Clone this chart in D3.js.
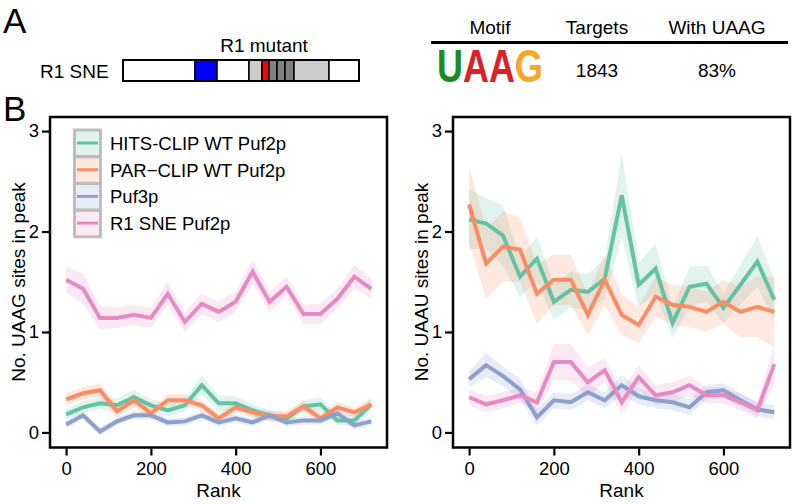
<!DOCTYPE html>
<html>
<head>
<meta charset="utf-8">
<script src="https://cdn.jsdelivr.net/npm/d3@7"></script>
<style>
  body { margin: 0; background: #fff; }
  svg { font-family: "Liberation Sans", Arial, sans-serif; }
</style>
</head>
<body>
<div id="chart-container"></div>
<script>
// ranks (x) shared by every series
const ranks = [0, 40, 80, 120, 160, 200, 240, 280, 320, 360, 400, 440, 480, 520, 560, 600, 640, 680, 720];

const seriesNames = ['HITS-CLIP WT Puf2p', 'PAR\u2212CLIP WT Puf2p', 'Puf3p', 'R1 SNE Puf2p'];
const seriesColors = ['#66c2a5', '#fc8d62', '#8da0cb', '#e78ac3'];

// left panel: UAAG sites in peak
const uaagHits = [0.18, 0.25, 0.29, 0.27, 0.35, 0.27, 0.22, 0.27, 0.47, 0.29, 0.29, 0.22, 0.17, 0.14, 0.26, 0.28, 0.12, 0.12, 0.28];
const uaagPar  = [0.33, 0.39, 0.42, 0.21, 0.32, 0.19, 0.32, 0.32, 0.27, 0.14, 0.25, 0.20, 0.16, 0.16, 0.26, 0.14, 0.25, 0.20, 0.28];
const uaagPuf3 = [0.08, 0.17, 0.01, 0.11, 0.17, 0.17, 0.10, 0.11, 0.17, 0.10, 0.14, 0.10, 0.17, 0.10, 0.12, 0.12, 0.19, 0.07, 0.11];
const uaagSne  = [1.52, 1.43, 1.14, 1.14, 1.17, 1.14, 1.38, 1.10, 1.28, 1.20, 1.30, 1.60, 1.30, 1.45, 1.18, 1.18, 1.33, 1.55, 1.43];
// half widths of the shaded bands
const uaagHitsErr = [0.05, 0.06, 0.06, 0.07, 0.07, 0.06, 0.06, 0.06, 0.10, 0.08, 0.07, 0.06, 0.05, 0.05, 0.06, 0.07, 0.05, 0.05, 0.07];
const uaagParErr  = [0.06, 0.06, 0.07, 0.06, 0.07, 0.05, 0.06, 0.06, 0.05, 0.05, 0.05, 0.05, 0.05, 0.05, 0.05, 0.05, 0.05, 0.05, 0.05];
const uaagPuf3Err = [0.04, 0.04, 0.04, 0.04, 0.04, 0.04, 0.04, 0.04, 0.04, 0.04, 0.04, 0.04, 0.04, 0.04, 0.04, 0.04, 0.04, 0.04, 0.04];
const uaagSneErr  = [0.13, 0.15, 0.12, 0.10, 0.10, 0.10, 0.12, 0.10, 0.10, 0.10, 0.10, 0.12, 0.10, 0.10, 0.10, 0.10, 0.10, 0.12, 0.10];

// right panel: UAAU sites in peak
const uaauHits = [2.12, 2.08, 1.96, 1.55, 1.73, 1.30, 1.42, 1.40, 1.53, 2.36, 1.47, 1.63, 1.09, 1.45, 1.48, 1.24, 1.47, 1.70, 1.32];
const uaauPar  = [2.27, 1.68, 1.85, 1.82, 1.38, 1.52, 1.52, 1.17, 1.52, 1.17, 1.07, 1.35, 1.27, 1.25, 1.20, 1.30, 1.20, 1.25, 1.20];
const uaauPuf3 = [0.53, 0.67, 0.56, 0.43, 0.15, 0.32, 0.30, 0.40, 0.32, 0.47, 0.36, 0.32, 0.30, 0.25, 0.40, 0.42, 0.32, 0.23, 0.20];
const uaauSne  = [0.35, 0.28, 0.32, 0.37, 0.30, 0.70, 0.70, 0.50, 0.62, 0.30, 0.55, 0.37, 0.40, 0.47, 0.37, 0.37, 0.30, 0.22, 0.68];
const uaauHitsErr = [0.30, 0.25, 0.30, 0.20, 0.22, 0.18, 0.18, 0.18, 0.20, 0.42, 0.22, 0.25, 0.15, 0.20, 0.18, 0.15, 0.20, 0.25, 0.20];
const uaauParErr  = [0.38, 0.35, 0.35, 0.32, 0.30, 0.25, 0.25, 0.20, 0.25, 0.20, 0.18, 0.20, 0.20, 0.20, 0.20, 0.22, 0.25, 0.30, 0.35];
const uaauPuf3Err = [0.08, 0.12, 0.10, 0.10, 0.08, 0.08, 0.08, 0.08, 0.08, 0.10, 0.08, 0.08, 0.08, 0.08, 0.07, 0.07, 0.07, 0.07, 0.07];
const uaauSneErr  = [0.08, 0.08, 0.08, 0.08, 0.10, 0.18, 0.18, 0.15, 0.12, 0.12, 0.12, 0.10, 0.10, 0.10, 0.08, 0.08, 0.08, 0.08, 0.20];

const xTicks = [0, 200, 400, 600];
const yTicks = [0, 1, 2, 3];

// panel A table
const tableHeaders = ['Motif', 'Targets', 'With UAAG'];
const tableValues = ['1843', '83%'];
const motifLetters = ['U', 'A', 'A', 'G'];
const motifColors = ['#1b8a22', '#d8222a', '#d8222a', '#f7a823'];

const svg = d3.select('#chart-container').append('svg')
  .attr('width', 793).attr('height', 504);

// ---------- panel A ----------
svg.append('text').attr('x', 3).attr('y', 33).attr('font-size', 35).text('A');
svg.append('text').attr('x', 3).attr('y', 121).attr('font-size', 35).text('B');

svg.append('text').attr('x', 40).attr('y', 78).attr('font-size', 19).text('R1 SNE');
svg.append('text').attr('x', 264).attr('y', 52).attr('font-size', 19)
  .attr('text-anchor', 'middle').text('R1 mutant');

// protein diagram segments [start, end, fill]
const domains = [
  [123, 195, '#ffffff'], [195, 217, '#0000ff'], [217, 249, '#ffffff'],
  [249, 262, '#cccccc'], [262, 269, '#ff0000'], [269, 277, '#808080'],
  [277, 285, '#808080'], [285, 294, '#808080'], [294, 329, '#cccccc'],
  [329, 359, '#ffffff']
];
svg.append('g').selectAll('rect').data(domains).join('rect')
  .attr('x', d => d[0]).attr('y', 60).attr('width', d => d[1] - d[0]).attr('height', 21)
  .attr('fill', d => d[2]).attr('stroke', '#000').attr('stroke-width', 1.5);
svg.append('rect').attr('x', 123).attr('y', 60).attr('width', 236).attr('height', 21)
  .attr('fill', 'none').attr('stroke', '#000').attr('stroke-width', 2);

// table
const colX = [490, 597, 717];
svg.append('g').selectAll('text').data(tableHeaders).join('text')
  .attr('x', (d, i) => colX[i]).attr('y', 34).attr('font-size', 19)
  .attr('text-anchor', 'middle').text(d => d);
svg.append('line').attr('x1', 431).attr('x2', 788).attr('y1', 42.5).attr('y2', 42.5)
  .attr('stroke', '#000').attr('stroke-width', 3);
svg.append('g').selectAll('text').data(tableValues).join('text')
  .attr('x', (d, i) => colX[i + 1]).attr('y', 77).attr('font-size', 19)
  .attr('text-anchor', 'middle').text(d => d);

// motif logo: one text, letters coloured through hard-stop gradient
const logoX = 437, logoW = 106;
const grad = svg.append('defs').append('linearGradient').attr('id', 'motif-grad')
  .attr('gradientUnits', 'userSpaceOnUse')
  .attr('x1', logoX).attr('x2', logoX + logoW).attr('y1', 0).attr('y2', 0);
motifLetters.forEach((l, i) => {
  grad.append('stop').attr('offset', i / motifLetters.length).attr('stop-color', motifColors[i]);
  grad.append('stop').attr('offset', (i + 1) / motifLetters.length).attr('stop-color', motifColors[i]);
});
svg.append('text').attr('x', logoX).attr('y', 82).attr('font-size', 46)
  .attr('font-weight', 'bold').attr('textLength', logoW).attr('lengthAdjust', 'spacingAndGlyphs')
  .attr('fill', 'url(#motif-grad)').text(motifLetters.join(''));

// ---------- panel B ----------
function drawPanel(left, yTitle, values, errs, withLegend) {
  const width = 337;
  const xScale = d3.scaleLinear().domain([-38, 757]).range([left, left + width]);
  const yScale = d3.scaleLinear().domain([-0.15, 3.14]).range([447.5, 117]);
  const g = svg.append('g');

  const area = d3.area()
    .x((d, i) => xScale(ranks[i]))
    .y0(d => yScale(d[0] - d[1]))
    .y1(d => yScale(d[0] + d[1]));
  const line = d3.line().x((d, i) => xScale(ranks[i])).y(d => yScale(d));

  values.forEach((vals, s) => {
    g.append('path')
      .datum(vals.map((v, i) => [v, errs[s][i]]))
      .attr('d', area).attr('fill', seriesColors[s]).attr('fill-opacity', 0.2);
  });
  values.forEach((vals, s) => {
    g.append('path').datum(vals).attr('d', line)
      .attr('fill', 'none').attr('stroke', seriesColors[s]).attr('stroke-width', 4)
      .attr('stroke-linejoin', 'miter');
  });

  // box
  g.append('rect').attr('x', left).attr('y', 117).attr('width', width).attr('height', 330.5)
    .attr('fill', 'none').attr('stroke', '#000').attr('stroke-width', 2.5);

  const xAxis = g.append('g').attr('transform', 'translate(0,448.5)')
    .call(d3.axisBottom(xScale).tickValues(xTicks).tickSize(7).tickPadding(6).tickSizeOuter(0));
  const yAxis = g.append('g').attr('transform', `translate(${left - 1},0)`)
    .call(d3.axisLeft(yScale).tickValues(yTicks).tickFormat(d3.format('d'))
      .tickSize(7).tickPadding(3).tickSizeOuter(0));
  [xAxis, yAxis].forEach(ax => {
    ax.select('.domain').remove();
    ax.selectAll('line').attr('stroke-width', 2.2);
    ax.selectAll('text').attr('font-size', 18.5).attr('fill', '#000')
      .attr('font-family', '"Liberation Sans", Arial, sans-serif');
  });

  g.append('text').attr('x', left + width / 2).attr('y', 497).attr('font-size', 19)
    .attr('text-anchor', 'middle').text('Rank');
  g.append('text')
    .attr('transform', `translate(${left - 25},282) rotate(-90)`)
    .attr('font-size', 19).attr('text-anchor', 'middle').text(yTitle);

  if (withLegend) {
    const lg = g.append('g');
    seriesNames.forEach((name, s) => {
      const cy = 143 + s * 26.7;
      lg.append('rect').attr('x', 74.5).attr('y', cy - 13).attr('width', 26).attr('height', 26.7)
        .attr('fill', d3.color(seriesColors[s]).copy({opacity: 0.2}))
        .attr('stroke', '#bdbdbd').attr('stroke-width', 3);
      lg.append('line').attr('x1', 77).attr('x2', 98).attr('y1', cy).attr('y2', cy)
        .attr('stroke', seriesColors[s]).attr('stroke-width', 3);
      lg.append('text').attr('x', 110).attr('y', cy + 7).attr('font-size', 18.5).text(name);
    });
  }
}

drawPanel(50, 'No. UAAG sites in peak',
  [uaagHits, uaagPar, uaagPuf3, uaagSne],
  [uaagHitsErr, uaagParErr, uaagPuf3Err, uaagSneErr], true);
drawPanel(453, 'No. UAAU sites in peak',
  [uaauHits, uaauPar, uaauPuf3, uaauSne],
  [uaauHitsErr, uaauParErr, uaauPuf3Err, uaauSneErr], false);
</script>
</body>
</html>
